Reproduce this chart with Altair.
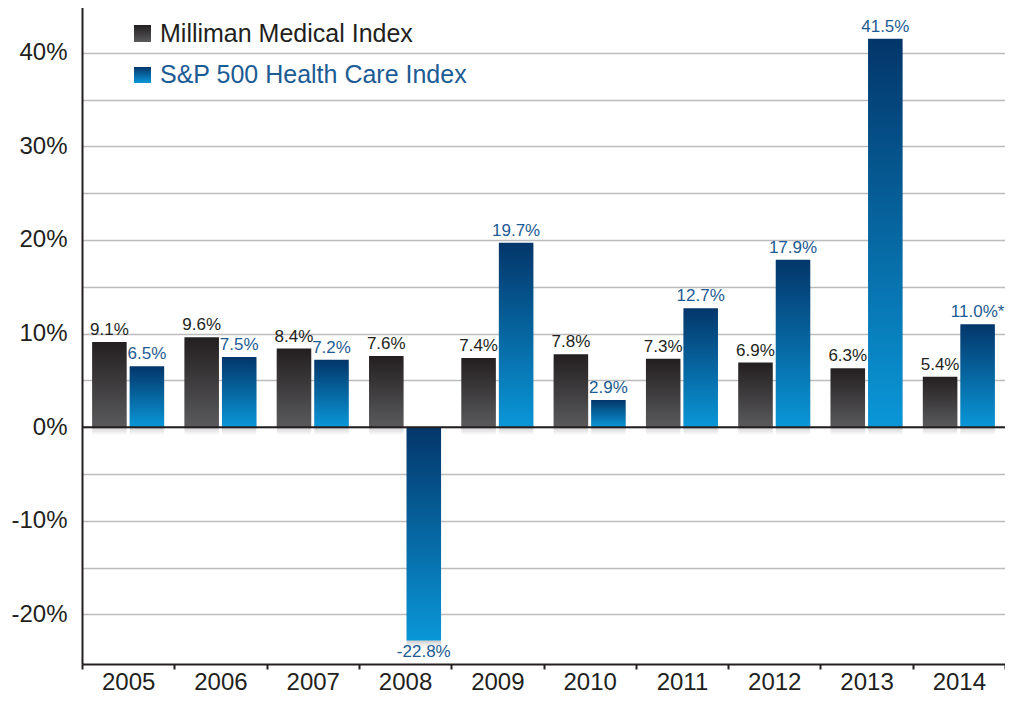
import altair as alt
import pandas as pd

years = ["2005", "2006", "2007", "2008", "2009", "2010", "2011", "2012", "2013", "2014"]
series_names = ["Milliman Medical Index", "S&P 500 Health Care Index"]
milliman = [9.1, 9.6, 8.4, 7.6, 7.4, 7.8, 7.3, 6.9, 6.3, 5.4]
sp500 = [6.5, 7.5, 7.2, -22.8, 19.7, 2.9, 12.7, 17.9, 41.5, 11.0]
milliman_labels = ["9.1%", "9.6%", "8.4%", "7.6%", "7.4%", "7.8%", "7.3%", "6.9%", "6.3%", "5.4%"]
sp500_labels = ["6.5%", "7.5%", "7.2%", "-22.8%", "19.7%", "2.9%", "12.7%", "17.9%", "41.5%", "11.0%*"]
grid_values = [-20, -15, -10, -5, 0, 5, 10, 15, 20, 25, 30, 35, 40]

rows = []
for i, y in enumerate(years):
    rows.append({"year": y, "series": series_names[0], "value": milliman[i], "label": milliman_labels[i]})
    rows.append({"year": y, "series": series_names[1], "value": sp500[i], "label": sp500_labels[i]})
df = pd.DataFrame(rows)

W, H = 923, 658
FONT = "Liberation Sans"
INK = "#231f20"
BLUE_TXT = "#1d5b93"

def grad(top, bottom):
    return alt.LinearGradient(
        gradient="linear",
        stops=[alt.GradientStop(offset=0, color=top), alt.GradientStop(offset=1, color=bottom)],
        x1=0, x2=0, y1=0, y2=1,
    )

GRAY_GRAD = grad("#231f20", "#5a5a5c")
BLUE_GRAD = grad("#03366a", "#0a97d8")

x_enc = alt.X(
    "year:N", sort=years,
    scale=alt.Scale(domain=years, paddingInner=0, paddingOuter=0),
    axis=alt.Axis(
        title=None, labelAngle=0, labelFontSize=24, labelFont=FONT, labelColor=INK,
        tickBand="extent", tickSize=5, tickWidth=2, tickColor=INK,
        domainColor=INK, domainWidth=2, labelPadding=1, grid=False,
    ),
)
xoff = alt.XOffset(
    "series:N", sort=series_names,
    scale=alt.Scale(domain=series_names, paddingInner=0.08, paddingOuter=0.27),
)
y_enc = alt.Y(
    "value:Q",
    scale=alt.Scale(domain=[-25.3, 45], nice=False, zero=False),
    axis=alt.Axis(
        title=None, values=grid_values,
        labelExpr="datum.value % 10 == 0 ? datum.value + '%' : ''",
        ticks=False, grid=True, gridColor="#bcbcbe", gridWidth=1.5,
        domainColor=INK, domainWidth=2, labelFontSize=24, labelFont=FONT,
        labelColor=INK, labelPadding=15,
    ),
)

base = alt.Chart(df)

shadows = []
for dx, dy in [(2, 2), (4, 3), (6, 5), (8, 7)]:
    shadows.append(
        base.mark_bar(color="#000000", opacity=0.045, xOffset=dx, yOffset=dy, y2Offset=dy)
        .encode(x=x_enc, xOffset=xoff, y=y_enc, y2=alt.datum(0))
    )

bars_m = base.transform_filter(alt.datum.series == series_names[0]).mark_bar(color=GRAY_GRAD).encode(
    x=x_enc, xOffset=xoff, y=y_enc, y2=alt.datum(0)
)
bars_s = base.transform_filter(alt.datum.series == series_names[1]).mark_bar(color=BLUE_GRAD).encode(
    x=x_enc, xOffset=xoff, y=y_enc, y2=alt.datum(0)
)

txt_m = base.transform_filter(alt.datum.series == series_names[0]).mark_text(
    baseline="bottom", dy=-3, fontSize=17, font=FONT, color=INK
).encode(x=x_enc, xOffset=xoff, y=y_enc, text="label:N")
txt_s_pos = base.transform_filter(
    (alt.datum.series == series_names[1]) & (alt.datum.value >= 0)
).mark_text(baseline="bottom", dy=-3, fontSize=17, font=FONT, color=BLUE_TXT).encode(
    x=x_enc, xOffset=xoff, y=y_enc, text="label:N"
)
txt_s_neg = base.transform_filter(
    (alt.datum.series == series_names[1]) & (alt.datum.value < 0)
).mark_text(baseline="top", dy=3, fontSize=17, font=FONT, color=BLUE_TXT).encode(
    x=x_enc, xOffset=xoff, y=y_enc, text="label:N"
)

zero_rule = alt.Chart(pd.DataFrame({"v": [0]})).mark_rule(color=INK, strokeWidth=2).encode(y="v:Q")
top_rule = alt.Chart(pd.DataFrame({"v": [0]})).mark_rule(color=INK, strokeWidth=2).encode(
    x=alt.value(0), x2=alt.value(W), y=alt.value(1)
)

leg1_box = alt.Chart(pd.DataFrame({"v": [0]})).mark_rect(color=GRAY_GRAD).encode(
    x=alt.value(52), x2=alt.value(69), y=alt.value(19), y2=alt.value(36)
)
leg2_box = alt.Chart(pd.DataFrame({"v": [0]})).mark_rect(color=BLUE_GRAD).encode(
    x=alt.value(52), x2=alt.value(69), y=alt.value(61), y2=alt.value(77)
)
leg1_txt = alt.Chart(pd.DataFrame({"t": [series_names[0]]})).mark_text(
    align="left", baseline="middle", fontSize=25, font=FONT, color=INK
).encode(x=alt.value(78), y=alt.value(28), text="t:N")
leg2_txt = alt.Chart(pd.DataFrame({"t": [series_names[1]]})).mark_text(
    align="left", baseline="middle", fontSize=25, font=FONT, color=BLUE_TXT
).encode(x=alt.value(78), y=alt.value(69), text="t:N")

chart = alt.layer(
    *shadows, bars_m, bars_s, zero_rule, top_rule, txt_m, txt_s_pos, txt_s_neg,
    leg1_box, leg2_box, leg1_txt, leg2_txt,
).properties(
    width=W, height=H,
    autosize=alt.AutoSizeParams(type="none"),
    padding={"left": 74, "top": -2, "right": 0, "bottom": 30},
).configure_view(stroke=None).configure(background="white")

chart.save("out.html", embed_options={"renderer": "svg", "actions": False})
